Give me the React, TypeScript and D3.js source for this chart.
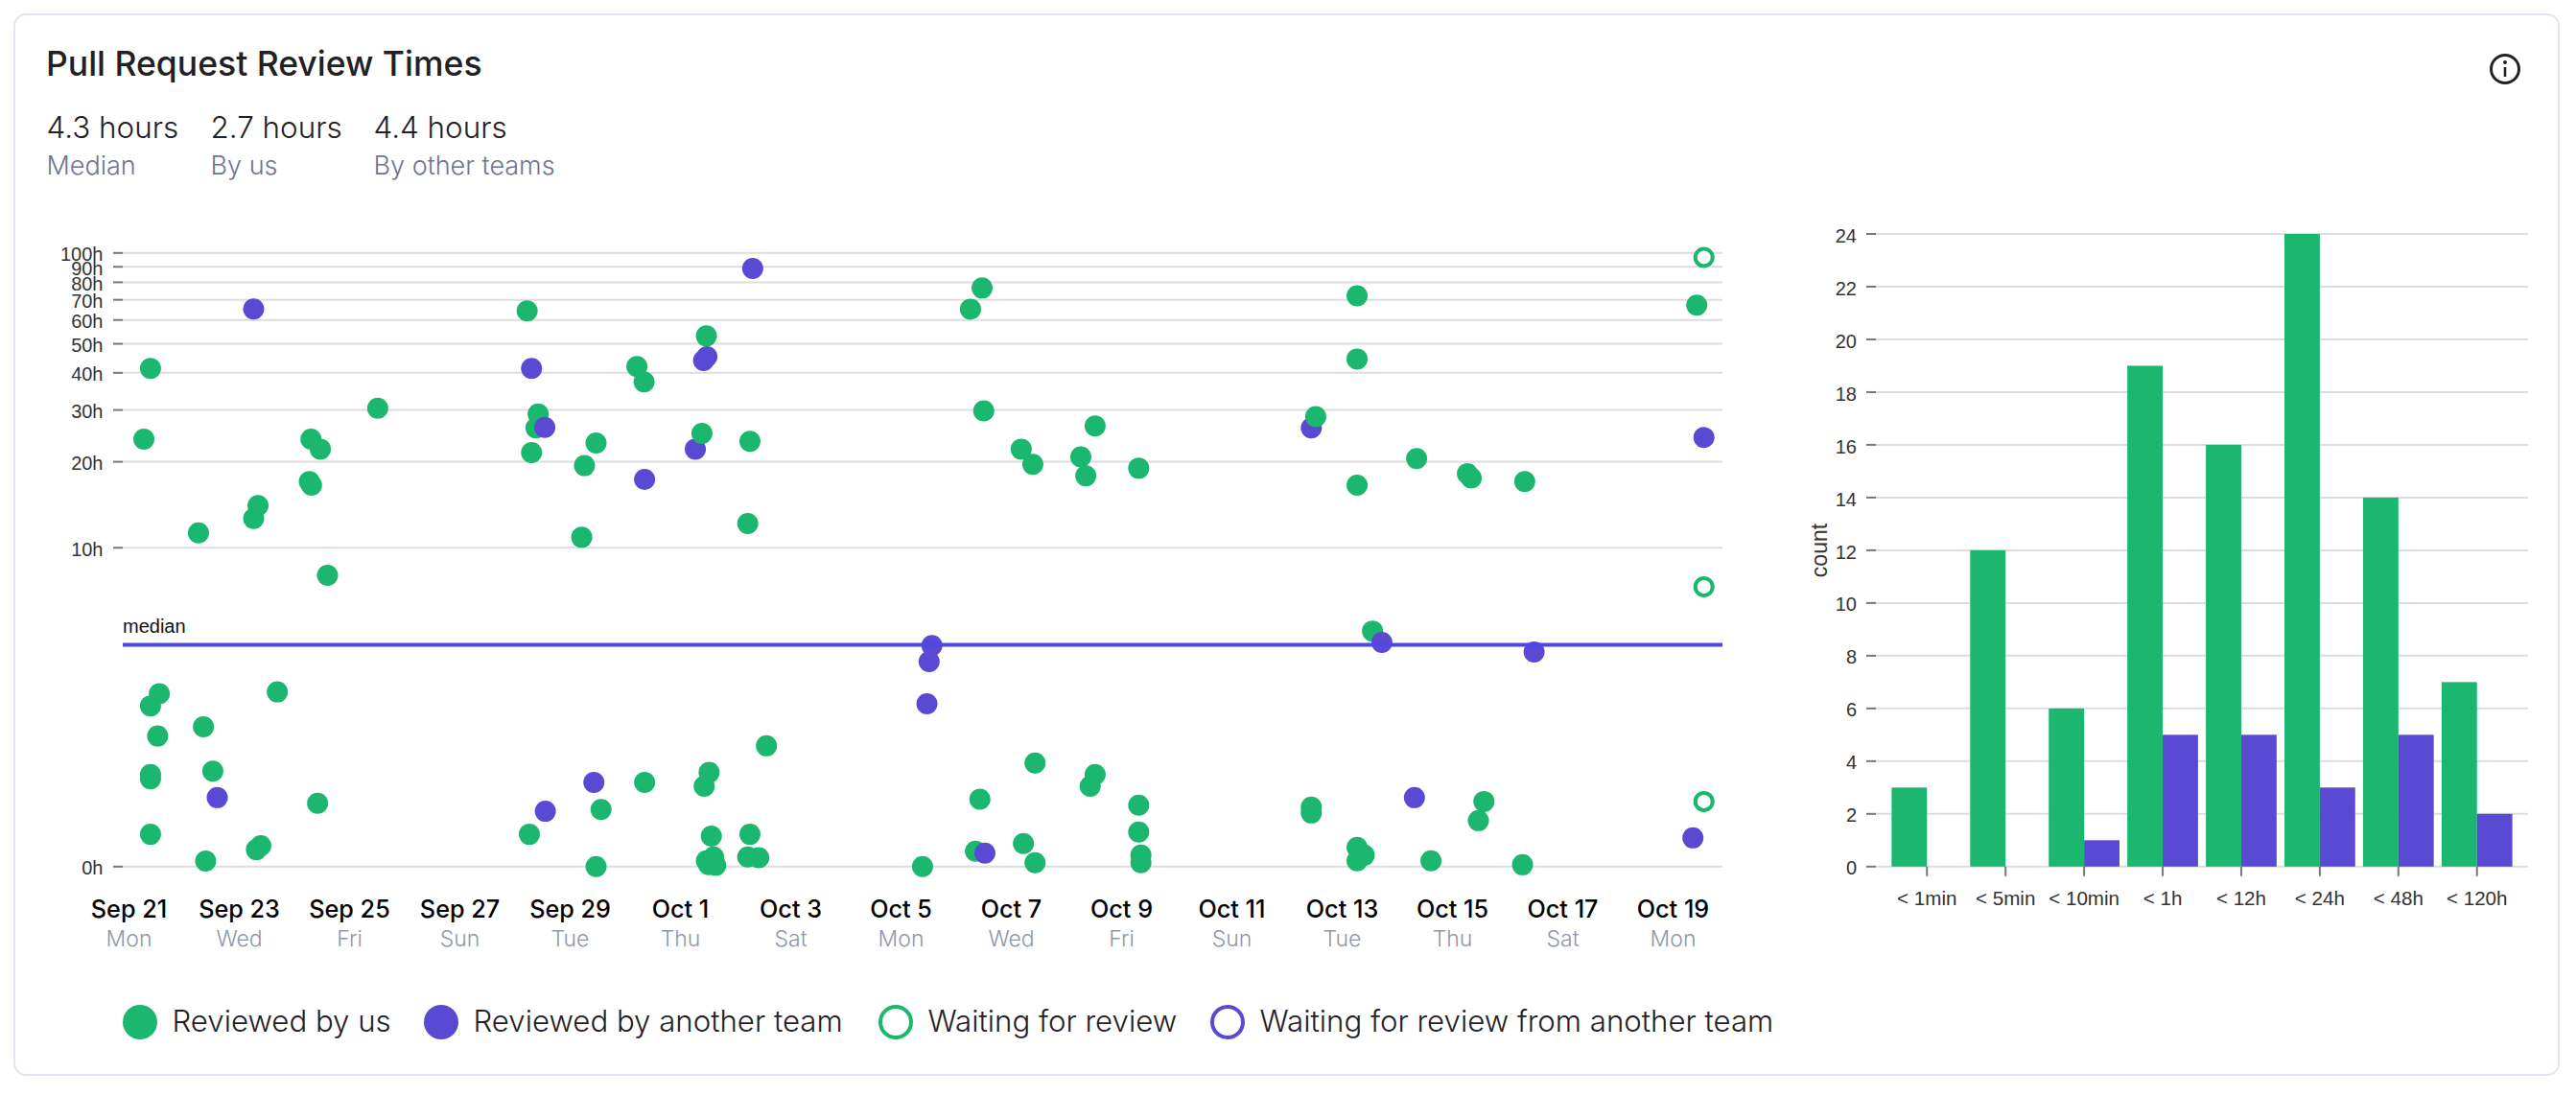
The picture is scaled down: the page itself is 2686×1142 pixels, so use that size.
import * as d3 from "d3";
import { useEffect, useRef } from "react";

const GREEN = "#1BB76E";
const PURPLE = "#5A4AD3";
const FONT = "Inter, sans-serif";
const AXIS_FONT = "'Liberation Sans', Arial, sans-serif";

// [days since Sep 21, hours]
const reviewedByUs: [number, number][] = [
  [0.39, 41.4], [0.27, 23.9], [4.51, 30.4], [3.3, 23.9], [3.47, 22.1], [3.27, 17.1], [3.31, 16.6],
  [2.34, 14.1], [2.26, 12.7], [1.26, 11.3], [7.22, 64.3], [7.42, 29.1], [7.38, 26.1], [7.3, 21.5],
  [8.47, 23.2], [8.26, 19.4], [9.21, 42], [9.34, 37.3], [10.47, 53.1], [10.39, 25], [11.26, 23.5],
  [11.22, 12.2], [8.21, 10.9], [15.47, 76.6], [15.26, 65.2], [15.5, 29.8], [16.18, 22.1], [16.39, 19.6],
  [17.52, 26.5], [17.26, 20.8], [17.35, 17.9], [18.31, 19], [21.52, 28.5], [22.27, 72.2], [22.27, 44.5],
  [22.27, 16.6], [23.35, 20.5], [24.27, 18.2], [24.34, 17.6], [25.31, 17.1], [28.43, 67.2], [22.55, 4.88],
  [14.39, 0], [16.43, 1.18], [15.43, 0.66], [15.35, 0.122], [16.22, 0.189], [16.43, 0.029], [17.52, 1.0],
  [17.43, 0.831], [18.31, 0.586], [18.31, 0.296], [18.35, 0.09], [18.35, 0.029], [21.44, 0.563], [21.44, 0.497],
  [22.27, 0.155], [22.4, 0.09], [22.27, 0.044], [23.61, 0.044], [24.57, 0.632], [24.47, 0.413], [25.27, 0.014],
  [3.6, 7.94], [0.55, 2.67], [0.39, 2.35], [0.52, 1.67], [0.39, 1.0], [0.39, 0.935], [0.39, 0.275],
  [1.35, 1.86], [1.52, 1.05], [1.39, 0.043], [2.31, 0.136], [2.39, 0.17], [2.69, 2.72], [3.42, 0.609],
  [7.26, 0.275], [8.56, 0.537], [8.47, 0], [9.35, 0.883], [10.52, 1.03], [10.43, 0.829], [10.56, 0.257],
  [10.6, 0.075], [10.47, 0.044], [10.51, 0.015], [10.64, 0.01], [11.26, 0.275], [11.22, 0.075], [11.42, 0.069],
  [11.56, 1.48],
];
const reviewedByOther: [number, number][] = [
  [2.26, 65.3], [7.3, 41.4], [7.54, 26.2], [10.48, 45.3], [10.42, 44], [10.27, 22.1], [9.35, 17.4],
  [11.31, 88.9], [21.44, 26.1], [28.56, 24.2], [22.72, 4.4], [14.56, 4.27], [14.51, 3.67], [25.48, 4.02],
  [14.47, 2.4], [15.52, 0.106], [23.31, 0.68], [28.36, 0.241], [1.6, 0.68], [7.55, 0.516], [8.43, 0.883],
];
const waitingForReview: [number, number][] = [
  [28.56, 96.7], [28.56, 7.2], [28.56, 0.632],
];

const medianHours = 4.3;
const hourTicks = [0, 10, 20, 30, 40, 50, 60, 70, 80, 90, 100];

const buckets = ["< 1min", "< 5min", "< 10min", "< 1h", "< 12h", "< 24h", "< 48h", "< 120h"];
const bucketsByUs = [3, 12, 6, 19, 16, 24, 14, 7];
const bucketsByOther = [0, 0, 1, 5, 5, 3, 5, 2];
const countTicks = d3.range(0, 25, 2);

const stats = [
  { value: "4.3 hours", label: "Median" },
  { value: "2.7 hours", label: "By us" },
  { value: "4.4 hours", label: "By other teams" },
];
const statX = [48.5, 219.5, 389.5];

const legendItems = [
  { label: "Reviewed by us", color: GREEN, open: false },
  { label: "Reviewed by another team", color: PURPLE, open: false },
  { label: "Waiting for review", color: GREEN, open: true },
  { label: "Waiting for review from another team", color: PURPLE, open: true },
];
const legendX = [146, 460, 934, 1280];

const startDate = new Date(Date.UTC(2020, 8, 21));
const dayToDate = (d: number) => new Date(startDate.getTime() + d * 864e5);

const App = () => {
  const ref = useRef<SVGSVGElement | null>(null);

  useEffect(() => {
    const svg = d3.select(ref.current);
    svg.selectAll("*").remove();
    svg.attr("font-family", FONT);

    svg
      .append("rect")
      .attr("x", 15)
      .attr("y", 15)
      .attr("width", 2653)
      .attr("height", 1106)
      .attr("rx", 12)
      .attr("fill", "#fff")
      .attr("stroke", "#E2E5F1")
      .attr("stroke-width", 2);

    svg
      .append("text")
      .attr("x", 48)
      .attr("y", 79)
      .attr("font-size", 35.5)
      .attr("font-weight", 450)
      .attr("fill", "#1f2125")
      .text("Pull Request Review Times");

    stats.forEach((s, i) => {
      svg.append("text").attr("x", statX[i]).attr("y", 143.5).attr("font-size", 31.4).attr("font-weight", 350).attr("fill", "#1f2125").text(s.value);
      svg.append("text").attr("x", statX[i]).attr("y", 182).attr("font-size", 27).attr("font-weight", 350).attr("fill", "#6E7491").text(s.label);
    });

    // info icon
    const info = svg.append("g").attr("transform", "translate(2612,72)");
    info.append("circle").attr("r", 14.5).attr("fill", "none").attr("stroke", "#222").attr("stroke-width", 3);
    info.append("circle").attr("cy", -7).attr("r", 2).attr("fill", "#222");
    info.append("line").attr("y1", -2).attr("y2", 8).attr("stroke", "#222").attr("stroke-width", 2.6);

    // scatter
    const x = d3
      .scaleUtc()
      .domain([startDate, dayToDate(28)])
      .range([134.5, 1744.5]);
    const y = d3.scaleSymlog().domain([0, 100]).range([903.8, 263.8]);

    svg
      .append("g")
      .selectAll("line")
      .data(hourTicks)
      .enter()
      .append("line")
      .attr("x1", 128)
      .attr("x2", 1796)
      .attr("y1", (d) => y(d))
      .attr("y2", (d) => y(d))
      .attr("stroke", "#DDD")
      .attr("stroke-width", 2);

    const yAxis = svg
      .append("g")
      .attr("transform", "translate(128,0)")
      .call(
        d3
          .axisLeft(y)
          .tickValues(hourTicks)
          .tickSize(10)
          .tickPadding(10.5)
          .offset(0)
          .tickFormat((d) => `${d}h`)
      );
    yAxis.select(".domain").remove();
    yAxis.selectAll("line").attr("stroke", "#777").attr("stroke-width", 2);
    yAxis.selectAll("text").attr("font-size", 20).attr("font-family", AXIS_FONT).attr("fill", "#333").attr("dy", "0.43em");

    const tickDates = d3.utcDay.range(startDate, dayToDate(29), 2);
    const fmtDate = d3.utcFormat("%b %-d");
    const fmtDay = d3.utcFormat("%a");
    const xLabels = svg.append("g").attr("text-anchor", "middle");
    tickDates.forEach((t) => {
      xLabels.append("text").attr("x", x(t)).attr("y", 957).attr("font-size", 25.2).attr("font-weight", 450).attr("fill", "#000").text(fmtDate(t));
      xLabels.append("text").attr("x", x(t)).attr("y", 987).attr("font-size", 23).attr("font-weight", 350).attr("fill", "#9097A8").text(fmtDay(t));
    });

    const points = [
      ...reviewedByUs.map((p) => ({ p, color: GREEN, open: false })),
      ...reviewedByOther.map((p) => ({ p, color: PURPLE, open: false })),
      ...waitingForReview.map((p) => ({ p, color: GREEN, open: true })),
    ].sort((a, b) => a.p[0] - b.p[0]);

    svg
      .append("g")
      .selectAll("circle")
      .data(points)
      .enter()
      .append("circle")
      .attr("cx", (d) => x(dayToDate(d.p[0])))
      .attr("cy", (d) => y(d.p[1]))
      .attr("r", (d) => (d.open ? 9 : 11))
      .attr("fill", (d) => (d.open ? "#fff" : d.color))
      .attr("stroke", (d) => (d.open ? d.color : "none"))
      .attr("stroke-width", 4);

    svg
      .append("line")
      .attr("x1", 128)
      .attr("x2", 1796)
      .attr("y1", y(medianHours))
      .attr("y2", y(medianHours))
      .attr("stroke", "#4F46E5")
      .attr("stroke-width", 4);
    svg.append("text").attr("x", 128).attr("y", 660).attr("font-size", 20).attr("font-family", AXIS_FONT).attr("fill", "#111").text("median");

    // legend
    legendItems.forEach((item, i) => {
      svg
        .append("circle")
        .attr("cx", legendX[i])
        .attr("cy", 1066)
        .attr("r", item.open ? 16 : 18)
        .attr("fill", item.open ? "#fff" : item.color)
        .attr("stroke", item.open ? item.color : "none")
        .attr("stroke-width", 4);
      svg
        .append("text")
        .attr("x", legendX[i] + 33.5)
        .attr("y", 1076)
        .attr("font-size", 31.2)
        .attr("font-weight", 350)
        .attr("fill", "#1f2125")
        .text(item.label);
    });

    // histogram
    const bx = d3.scaleBand().domain(buckets).range([1956, 2636]).paddingInner(0.1).paddingOuter(0.2);
    const sub = d3.scaleBand().domain(["us", "other"]).range([0, bx.bandwidth()]);
    const by = d3.scaleLinear().domain([0, 24]).range([903.8, 244]);

    svg
      .append("g")
      .selectAll("line")
      .data(countTicks)
      .enter()
      .append("line")
      .attr("x1", 1956)
      .attr("x2", 2636)
      .attr("y1", (d) => by(d))
      .attr("y2", (d) => by(d))
      .attr("stroke", "#DDD")
      .attr("stroke-width", 2);

    const byAxis = svg
      .append("g")
      .attr("transform", "translate(1956,0)")
      .call(d3.axisLeft(by).tickValues(countTicks).tickSize(10).tickPadding(10).offset(0));
    byAxis.select(".domain").remove();
    byAxis.selectAll("line").attr("stroke", "#777").attr("stroke-width", 2);
    byAxis.selectAll("text").attr("font-size", 20).attr("font-family", AXIS_FONT).attr("fill", "#333").attr("dy", "0.43em");

    const bxAxis = svg
      .append("g")
      .attr("transform", "translate(0,903.8)")
      .call(d3.axisBottom(bx).tickSize(10).tickPadding(16).offset(0));
    bxAxis.select(".domain").remove();
    bxAxis.selectAll("line").attr("stroke", "#777").attr("stroke-width", 2);
    bxAxis.selectAll("text").attr("font-size", 20.6).attr("font-family", AXIS_FONT).attr("fill", "#333");

    svg
      .append("g")
      .selectAll("rect")
      .data(buckets)
      .enter()
      .append("rect")
      .attr("x", (d) => bx(d)! + sub("us")!)
      .attr("y", (_, i) => by(bucketsByUs[i]))
      .attr("width", sub.bandwidth())
      .attr("height", (_, i) => by(0) - by(bucketsByUs[i]))
      .attr("fill", GREEN);
    svg
      .append("g")
      .selectAll("rect")
      .data(buckets)
      .enter()
      .append("rect")
      .attr("x", (d) => bx(d)! + sub("other")!)
      .attr("y", (_, i) => by(bucketsByOther[i]))
      .attr("width", sub.bandwidth())
      .attr("height", (_, i) => by(0) - by(bucketsByOther[i]))
      .attr("fill", PURPLE);

    svg
      .append("text")
      .attr("transform", "translate(1905,574) rotate(-90)")
      .attr("text-anchor", "middle")
      .attr("font-size", 23)
      .attr("font-family", AXIS_FONT)
      .attr("fill", "#333")
      .text("count");
  }, []);

  return (
    <svg
      ref={ref}
      width={2686}
      height={1142}
      style={{ position: "absolute", left: 0, top: 0, background: "#fff" }}
    ></svg>
  );
};

export default App;
